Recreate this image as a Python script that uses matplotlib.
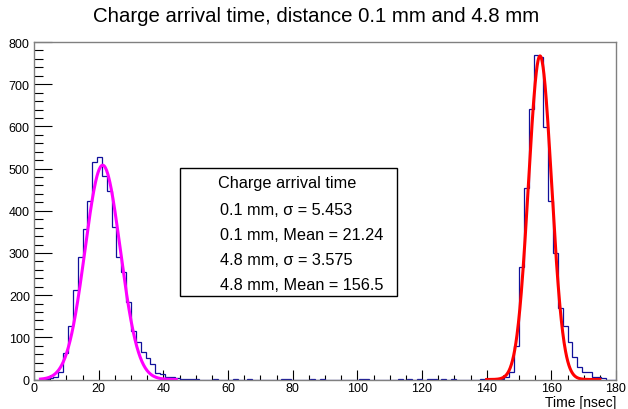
import numpy as np
import matplotlib
matplotlib.use("Agg")
import matplotlib.pyplot as plt
from matplotlib.patches import Rectangle
from matplotlib.ticker import MultipleLocator

plt.rcParams["font.family"] = ["Liberation Sans", "DejaVu Sans"]

# histogram: 120 bins of 1.5 ns from 0 to 180 ns
bin_edges = np.linspace(0, 180, 121)

counts = [0] * 120
left_peak = {
    2: 1, 3: 3, 4: 7, 5: 18, 6: 64, 7: 128, 8: 211, 9: 290, 10: 357,
    11: 422, 12: 515, 13: 527, 14: 483, 15: 448, 16: 361, 17: 290,
    18: 256, 19: 183, 20: 116, 21: 89, 22: 65, 23: 51, 24: 36, 25: 15,
    26: 14, 27: 6, 28: 5, 29: 3, 30: 2, 31: 1, 32: 1, 33: 1,
}
right_peak = {
    96: 2, 97: 5, 98: 17, 99: 80, 100: 266, 101: 454, 102: 641, 103: 770,
    104: 764, 105: 599, 106: 424, 107: 299, 108: 169, 109: 128, 110: 88,
    111: 53, 112: 29, 113: 17, 114: 17, 115: 7, 116: 7, 117: 4,
}
single_hits = [37, 41, 44, 51, 52, 57, 59, 67, 68, 75, 77, 79, 81, 82, 84, 86, 92]
for k, v in left_peak.items():
    counts[k] = v
for k, v in right_peak.items():
    counts[k] = v
for k in single_hits:
    counts[k] = 1

# gaussian fits
fit_labels = ["0.1 mm", "4.8 mm"]
fit_mean = [21.24, 156.5]
fit_sigma = [5.453, 3.575]
fit_amp = [508, 767]
fit_range = [(2.0, 44.0), (140.0, 175.0)]
fit_color = ["#ff00ff", "#ff0000"]

fig = plt.figure(figsize=(6.28, 4.10), dpi=100)
ax = fig.add_axes([34 / 628, 29.5 / 410, 582 / 628, 337.5 / 410])

ax.stairs(counts, bin_edges, color="#10109a", lw=0.9, zorder=2)

for i in range(2):
    t = np.linspace(fit_range[i][0], fit_range[i][1], 400)
    y = fit_amp[i] * np.exp(-0.5 * ((t - fit_mean[i]) / fit_sigma[i]) ** 2)
    ax.plot(t, y, color=fit_color[i], lw=2.2, zorder=3)

ax.set_xlim(0, 180)
ax.set_ylim(0, 800)
ax.xaxis.set_major_locator(MultipleLocator(20))
ax.xaxis.set_minor_locator(MultipleLocator(5))
ax.yaxis.set_major_locator(MultipleLocator(100))
ax.yaxis.set_minor_locator(MultipleLocator(20))

ax.tick_params(axis="both", which="both", direction="in", labelsize=9, width=0.8)
ax.tick_params(axis="x", which="major", length=7.2, pad=2)
ax.tick_params(axis="x", which="minor", length=3.6)
ax.tick_params(axis="y", which="major", length=13, pad=3)
ax.tick_params(axis="y", which="minor", length=6.5)
for s in ax.spines.values():
    s.set_color("#808080")
    s.set_linewidth(1)
    s.set_zorder(4)

ax.set_xlabel("Time [nsec]", loc="right", fontsize=10, labelpad=0.5)

fig.text(316 / 628, 1 - 17 / 410, "Charge arrival time, distance 0.1 mm and 4.8 mm",
         ha="center", va="center", fontsize=14.7)

# legend box
ax.add_patch(Rectangle((0.2509, 0.2474), 0.3728, 0.3793, transform=ax.transAxes,
                       facecolor="white", edgecolor="black", lw=1, zorder=5))
ax.text(0.4356, 0.585, "Charge arrival time", transform=ax.transAxes,
        ha="center", va="center", fontsize=11.7, zorder=6)
legend_lines = []
for i in range(2):
    legend_lines.append(f"{fit_labels[i]}, \u03c3 = {fit_sigma[i]:.4g}")
    legend_lines.append(f"{fit_labels[i]}, Mean = {fit_mean[i]:.4g}")
ys = [0.504, 0.430, 0.356, 0.282]
for yy, txt in zip(ys, legend_lines):
    ax.text(0.3196, yy, txt, transform=ax.transAxes, ha="left", va="center",
            fontsize=11.7, zorder=6)

fig.savefig("out.png", dpi=100)
